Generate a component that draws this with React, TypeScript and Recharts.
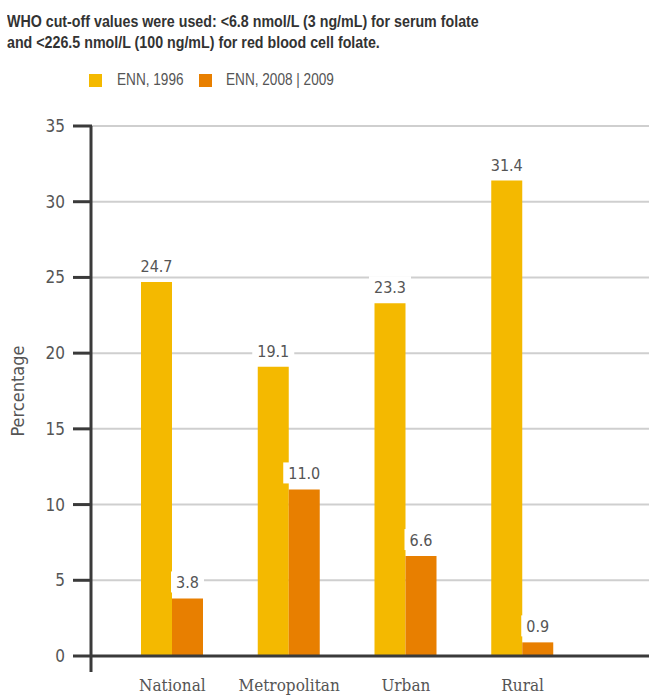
import { BarChart, Bar, XAxis, YAxis, CartesianGrid, LabelList } from 'recharts';

const regions = ['National', 'Metropolitan', 'Urban', 'Rural'];
const enn1996 = [24.7, 19.1, 23.3, 31.4];
const enn2008 = [3.8, 11.0, 6.6, 0.9];
const yTicks = [0, 5, 10, 15, 20, 25, 30, 35];

const data = regions.map((name, i) => ({ name, enn1996: enn1996[i], enn2008: enn2008[i] }));

const YELLOW = '#f4b900';
const ORANGE = '#e87f00';
const AXIS = '#3a3a3a';
const TEXT = '#555';
const NUM_FONT = '"DejaVu Sans Condensed", "DejaVu Sans", sans-serif';
const SANS = '"Liberation Sans", Arial, sans-serif';

const ValueLabel = (props: any) => {
  const { x, y, width, value } = props;
  const label = Number(value).toFixed(1);
  const cx = x + width / 2;
  const w = label.length * 9 + 6;
  return (
    <g>
      <rect x={cx - w / 2} y={y - 27} width={w} height={21} fill="#fff" />
      <text x={cx} y={y - 10} textAnchor="middle" fontSize={16} fill={TEXT} fontFamily={NUM_FONT}>
        {label}
      </text>
    </g>
  );
};

const squeezed = (left: number, top: number, scale: number): React.CSSProperties => ({
  position: 'absolute',
  left,
  top,
  transform: `scaleX(${scale})`,
  transformOrigin: 'left top',
  whiteSpace: 'nowrap',
});

export default function App() {
  return (
    <div style={{ position: 'absolute', left: 0, top: 0, width: 649, height: 695, background: '#fff', overflow: 'hidden' }}>
      <div
        style={{
          ...squeezed(7, 11, 0.89),
          fontFamily: SANS,
          fontWeight: 'bold',
          fontSize: 16,
          lineHeight: '21px',
          color: '#333',
        }}
      >
        WHO cut-off values were used: &lt;6.8 nmol/L (3 ng/mL) for serum folate
        <br />
        and &lt;226.5 nmol/L (100 ng/mL) for red blood cell folate.
      </div>

      {/* legend */}
      <div style={{ position: 'absolute', left: 89, top: 74, width: 13, height: 13, background: YELLOW }} />
      <div style={{ ...squeezed(117, 70, 0.8), fontFamily: SANS, fontSize: 17, color: TEXT }}>ENN, 1996</div>
      <div style={{ position: 'absolute', left: 199, top: 74, width: 13, height: 13, background: ORANGE }} />
      <div style={{ ...squeezed(226, 70, 0.8), fontFamily: SANS, fontSize: 17, color: TEXT }}>ENN, 2008 | 2009</div>

      <div style={{ position: 'absolute', left: 0, top: 0 }}>
        <BarChart
          width={649}
          height={695}
          data={data}
          margin={{ top: 126, right: 0, bottom: 0, left: 0 }}
          barGap={0}
          barSize={31}
        >
          <CartesianGrid horizontal vertical={false} stroke="#cfcfcf" strokeWidth={2} />
          <XAxis
            dataKey="name"
            height={39}
            padding={{ left: 22, right: 68 }}
            axisLine={{ stroke: AXIS, strokeWidth: 3 }}
            tickLine={false}
            tickSize={0}
            tickMargin={23}
            tick={{ fill: TEXT, fontSize: 17, fontFamily: '"DejaVu Serif Condensed", "DejaVu Serif", serif' }}
            interval={0}
          />
          <YAxis
            width={92}
            domain={[0, 35]}
            ticks={yTicks}
            axisLine={false}
            tickSize={19}
            tickMargin={8}
            tickLine={{ stroke: AXIS, strokeWidth: 3 }}
            tick={{ fill: TEXT, fontSize: 17, fontFamily: NUM_FONT }}
            label={{
              value: 'Percentage',
              angle: -90,
              position: 'insideLeft',
              dx: 13,
              style: { fill: TEXT, fontSize: 18, fontFamily: NUM_FONT, textAnchor: 'middle' },
            }}
          />
          <Bar dataKey="enn1996" name="ENN, 1996" fill={YELLOW} isAnimationActive={false}>
            <LabelList dataKey="enn1996" content={ValueLabel} />
          </Bar>
          <Bar dataKey="enn2008" name="ENN, 2008 | 2009" fill={ORANGE} isAnimationActive={false}>
            <LabelList dataKey="enn2008" content={ValueLabel} />
          </Bar>
        </BarChart>
      </div>

      <svg width={649} height={695} style={{ position: 'absolute', left: 0, top: 0, pointerEvents: 'none' }}>
        <line x1={91} y1={126} x2={91} y2={672} stroke={AXIS} strokeWidth={3} />
      </svg>
    </div>
  );
}
